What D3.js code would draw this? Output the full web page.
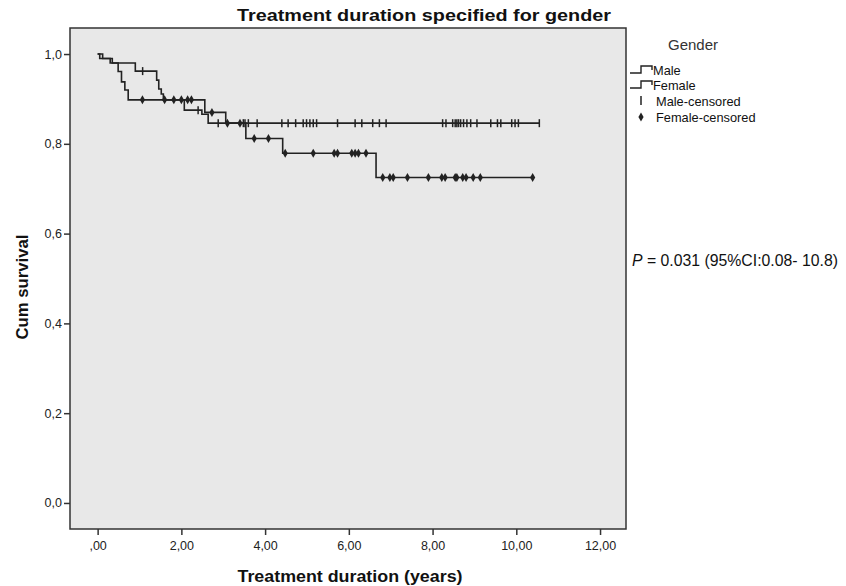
<!DOCTYPE html>
<html><head><meta charset="utf-8">
<script src="https://cdn.jsdelivr.net/npm/d3@7/dist/d3.min.js"></script>
<style>body{margin:0;background:#fff}svg{display:block}text{font-family:"Liberation Sans",Arial,sans-serif}</style>
</head><body>
<svg id="c" width="846" height="586"></svg>
<script>
// ---- data ----
const xTicks = [0, 2, 4, 6, 8, 10, 12];
const xTickLabels = [",00", "2,00", "4,00", "6,00", "8,00", "10,00", "12,00"];
const yTicks = [0, 0.2, 0.4, 0.6, 0.8, 1.0];
const yTickLabels = ["0,0", "0,2", "0,4", "0,6", "0,8", "1,0"];

const maleStepTimes = [0, 0.12, 0.30, 0.90, 1.41, 1.46, 1.52, 1.57, 2.07, 2.49, 2.64];
const maleStepSurv  = [1.0, 0.99, 0.98, 0.962, 0.942, 0.922, 0.911, 0.898, 0.875, 0.866, 0.846];
const maleEnd = 10.55;
const maleCensored = [1.075, 2.4, 2.88, 3.48, 3.52, 3.6, 3.81, 4.4, 4.55, 4.73, 4.91, 4.99, 5.07, 5.15, 5.23,
  5.73, 6.15, 6.31, 6.57, 6.73, 6.89, 8.24, 8.32, 8.48, 8.54, 8.58, 8.62, 8.67, 8.74, 8.82, 8.91, 9.06,
  9.39, 9.55, 9.63, 9.89, 9.97, 10.05, 10.55];

const femaleStepTimes = [0, 0.05, 0.35, 0.49, 0.57, 0.65, 0.73, 2.56, 3.06, 3.54, 4.42, 6.65];
const femaleStepSurv  = [1.0, 0.99, 0.98, 0.961, 0.938, 0.92, 0.898, 0.870, 0.846, 0.812, 0.779, 0.725];
const femaleEnd = 10.39;
const femaleCensored = [1.07, 1.6, 1.82, 2.0, 2.15, 2.24, 2.73, 3.1, 3.4, 3.74, 4.08, 4.48, 5.15, 5.65, 5.73,
  6.07, 6.15, 6.23, 6.41, 6.81, 6.98, 7.06, 7.4, 7.9, 8.22, 8.3, 8.54, 8.58, 8.72, 8.8, 8.97, 9.14, 10.39];

const legendLabels = ["Male", "Female", "Male-censored", "Female-censored"];
const titleText = "Treatment duration specified for gender";
const xLabel = "Treatment duration (years)";
const yLabel = "Cum survival";
const pText = ["P", " = 0.031 (95%CI:0.08- 10.8)"];

// ---- layout ----
const svg = d3.select("#c");
const L = 70, R = 626, T = 28, B = 529;
const x = d3.scaleLinear().domain([-0.66, 12.62]).range([L, R]);
const y = d3.scaleLinear().domain([-0.058, 1.058]).range([B, T]);
const ink = "#222";

svg.append("rect").attr("x", L).attr("y", T).attr("width", R - L).attr("height", B - T)
  .attr("fill", "#e8e8e8").attr("stroke", "#333").attr("stroke-width", 1.5);

// axes
const gx = svg.append("g").attr("transform", `translate(0,${B})`)
  .call(d3.axisBottom(x).tickValues(xTicks).tickSize(6).tickPadding(6)
    .tickFormat((d, i) => xTickLabels[i]));
const gy = svg.append("g").attr("transform", `translate(${L},0)`)
  .call(d3.axisLeft(y).tickValues(yTicks).tickSize(6).tickPadding(2)
    .tickFormat((d, i) => yTickLabels[i]));
[gx, gy].forEach(g => {
  g.select(".domain").remove();
  g.selectAll("line").attr("stroke", "#333").attr("stroke-width", 1.5);
  g.selectAll("text").attr("fill", "#222").style("font-size", "12.5px")
    .style("font-family", '"Liberation Sans",Arial,sans-serif');
});

// survival curves
function stepPath(times, surv, end) {
  const pts = [];
  for (let i = 0; i < times.length; i++) {
    if (i > 0) pts.push([times[i], surv[i - 1]]);
    pts.push([times[i], surv[i]]);
  }
  pts.push([end, surv[surv.length - 1]]);
  return d3.line().x(d => x(d[0])).y(d => y(d[1]))(pts);
}
function survAt(times, surv, t) {
  let v = surv[0];
  for (let i = 0; i < times.length; i++) if (times[i] <= t) v = surv[i];
  return v;
}
svg.append("path").attr("d", stepPath(femaleStepTimes, femaleStepSurv, femaleEnd))
  .attr("fill", "none").attr("stroke", ink).attr("stroke-width", 1.6);
svg.append("path").attr("d", stepPath(maleStepTimes, maleStepSurv, maleEnd))
  .attr("fill", "none").attr("stroke", ink).attr("stroke-width", 1.6);

const diamond = "M0,-4.5L2.6,0L0,4.5L-2.6,0Z";
svg.append("g").selectAll("line").data(maleCensored).join("line")
  .attr("x1", d => x(d)).attr("x2", d => x(d))
  .attr("y1", d => y(survAt(maleStepTimes, maleStepSurv, d)) - 4)
  .attr("y2", d => y(survAt(maleStepTimes, maleStepSurv, d)) + 4)
  .attr("stroke", ink).attr("stroke-width", 1.5);
svg.append("g").selectAll("path").data(femaleCensored).join("path")
  .attr("d", diamond)
  .attr("transform", d => `translate(${x(d)},${y(survAt(femaleStepTimes, femaleStepSurv, d))})`)
  .attr("fill", ink);

// titles
svg.append("text").attr("x", 424).attr("y", 21).attr("text-anchor", "middle")
  .style("font-size", "17px").style("font-weight", "bold").attr("fill", "#111")
  .attr("textLength", 374).attr("lengthAdjust", "spacingAndGlyphs").text(titleText);
svg.append("text").attr("x", 350).attr("y", 582).attr("text-anchor", "middle")
  .style("font-size", "16px").style("font-weight", "bold").attr("fill", "#111")
  .attr("textLength", 225).attr("lengthAdjust", "spacingAndGlyphs").text(xLabel);
svg.append("text").attr("transform", `translate(28,287) rotate(-90)`).attr("text-anchor", "middle")
  .style("font-size", "16px").style("font-weight", "bold").attr("fill", "#111")
  .attr("textLength", 105).attr("lengthAdjust", "spacingAndGlyphs").text(yLabel);

// legend
const lg = svg.append("g");
lg.append("text").attr("x", 668).attr("y", 50).style("font-size", "15px").attr("fill", "#333").text("Gender");
const rowsY = [70, 85, 101, 117];
[0, 1].forEach(i => {
  const yy = rowsY[i];
  lg.append("path").attr("d", `M630,${yy + 3}H641V${yy - 4}H652V${yy}`)
    .attr("fill", "none").attr("stroke", ink).attr("stroke-width", 1.4);
});
lg.append("line").attr("x1", 641).attr("x2", 641).attr("y1", rowsY[2] - 5).attr("y2", rowsY[2] + 4)
  .attr("stroke", ink).attr("stroke-width", 1.5);
lg.append("path").attr("d", diamond).attr("transform", `translate(641,${rowsY[3]})`).attr("fill", ink);
legendLabels.forEach((t, i) => {
  lg.append("text").attr("x", i < 2 ? 653 : 656).attr("y", rowsY[i] + 4.5)
    .style("font-size", "12.8px").attr("fill", "#111").text(t);
});

// p value annotation
const pt = svg.append("text").attr("x", 632).attr("y", 266).style("font-size", "15.8px").attr("fill", "#111");
pt.append("tspan").style("font-style", "italic").text(pText[0]);
pt.append("tspan").text(pText[1]);
</script>
</body></html>
